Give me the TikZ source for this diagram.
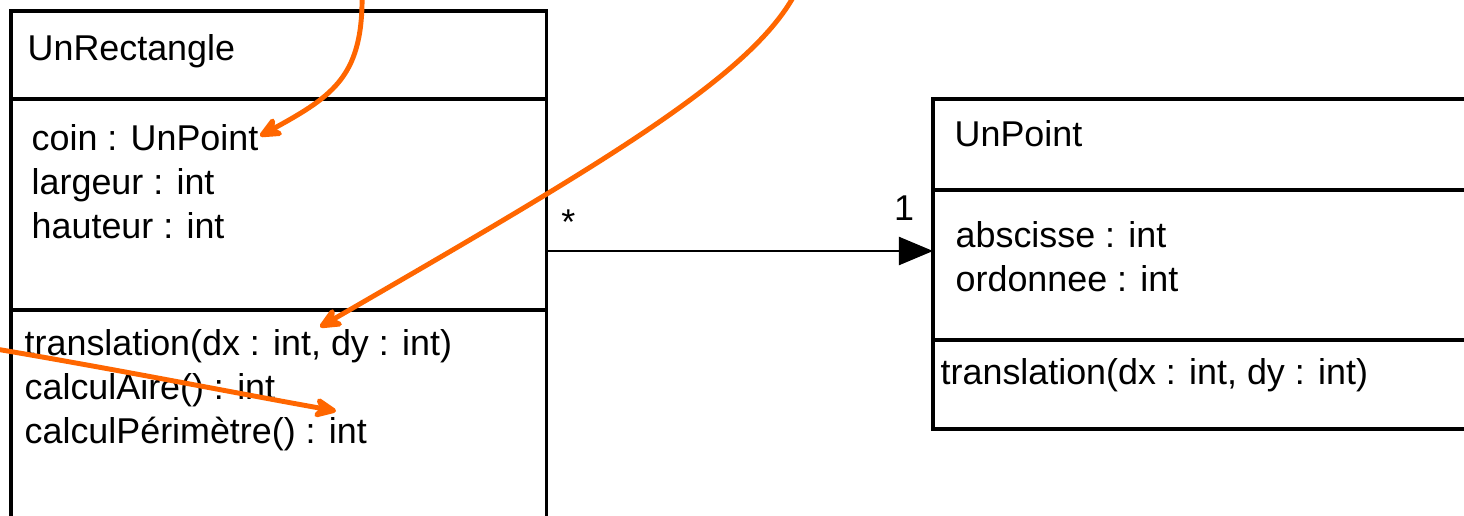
\documentclass[tikz,border=0pt]{standalone}
\usepackage{fontspec}
\setmainfont{Liberation Sans}
\usetikzlibrary{arrows.meta, positioning}
\definecolor{noteorange}{RGB}{255,102,0}

\begin{document}
\begin{tikzpicture}[
  x=0.01cm, y=-0.01cm,
  >={Triangle[length=3.4mm, width=2.8mm]},
  compart/.style={draw, line width=1pt, outer sep=0pt, inner sep=0pt, anchor=north west},
  member/.style={font=\fontsize{10.2pt}{12.5pt}\selectfont, align=left, inner sep=0pt, anchor=north west},
  mult/.style={font=\fontsize{10.2pt}{12.5pt}\selectfont, inner sep=0pt},
  note/.style={draw=noteorange, line width=1.4pt, line cap=round,
    -{Stealth[length=2.8mm, width=2.5mm, inset=0.8mm, round]}}
]
\useasboundingbox (0,0) rectangle (1464,515);
\clip (0,0) rectangle (1464,515);

% classe UnRectangle
\node[compart, minimum width=5.35cm, minimum height=0.88cm] (rectName) at (11,11) {};
\node[compart, minimum width=5.35cm, minimum height=2.11cm, below=0pt of rectName] (rectAttr) {};
\node[compart, minimum width=5.35cm, minimum height=2.6cm, below=0pt of rectAttr] (rectOps) {};
\node[member] (rectTitle) at (27,34) {UnRectangle};
\node[member] (rectFields) at (31,124) {coin : UnPoint\\largeur : int\\hauteur : int};
\node[member] (rectMethods) at (24,329) {translation(dx : int, dy : int)\\calculAire() : int\\calculPérimètre() : int};

% classe UnPoint
\node[compart, minimum width=5.7cm, minimum height=0.91cm] (ptName) at (933,99) {};
\node[compart, minimum width=5.7cm, minimum height=1.5cm, below=0pt of ptName] (ptAttr) {};
\node[compart, minimum width=5.7cm, minimum height=0.89cm, below=0pt of ptAttr] (ptOps) {};
\node[member] (ptTitle) at (954,120) {UnPoint};
\node[member] (ptFields) at (955,221) {abscisse : int\\ordonnee : int};
\node[member] (ptMethods) at (940,358) {translation(dx : int, dy : int)};

% association
\coordinate (assocLvl) at (0,251);
\draw[->, line width=0.6pt] (rectAttr.east |- assocLvl) -- (ptAttr.west |- assocLvl)
  node[mult, pos=0, anchor=base west, xshift=0.14cm, yshift=0.16cm] {*}
  node[mult, pos=1, anchor=base east, xshift=-0.18cm, yshift=0.3cm] {1};

% annotations
\coordinate (noteA) at (362,-10);
\coordinate (noteB) at (797,-10);
\coordinate (noteC) at (-10,348);
\coordinate (coinTip) at (260,136);
\coordinate (transTip) at (320,327);
\coordinate (perimTip) at (336,411);
\draw[note] (noteA) .. controls (364,75) and (335,95) .. (coinTip);
\draw[note] (noteB) .. controls (755,75) and (600,165) .. (transTip);
\draw[note] (noteC) .. controls (120,370) and (230,392) .. (perimTip);
\end{tikzpicture}
\end{document}
